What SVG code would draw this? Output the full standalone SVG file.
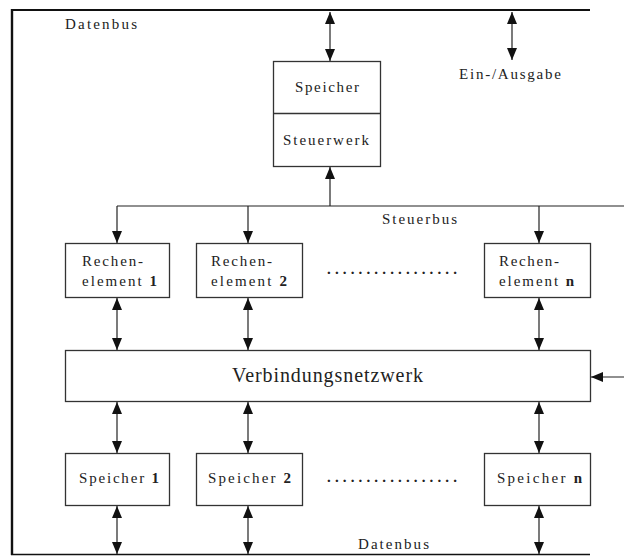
<svg xmlns="http://www.w3.org/2000/svg" width="624" height="557" viewBox="0 0 624 557">
  <style>
    .box { fill: #ffffff; stroke: #333333; stroke-width: 1.3; }
    .bus { fill: none; stroke: #111111; }
    .wire { fill: none; stroke: #222222; stroke-width: 1.2; }
    .both { marker-start: url(#head); marker-end: url(#head); }
    .one { marker-end: url(#head); }
    text { font-family: "Liberation Serif", "Times New Roman", serif; fill: #222222; }
    .small { font-size: 15px; }
    .big { font-size: 20px; }
    .num { font-weight: bold; }
    .dots { font-size: 15px; font-weight: bold; }
  </style>
  <defs>
    <marker id="head" viewBox="0 0 12 10" refX="12" refY="5" markerWidth="12" markerHeight="10" markerUnits="userSpaceOnUse" orient="auto-start-reverse">
      <path d="M0,0 L12,5 L0,10 z" fill="#111111"/>
    </marker>
  </defs>

  <rect width="624" height="557" fill="#ffffff"/>

  <!-- Data bus frame -->
  <g id="datenbus">
    <line class="bus" x1="12" y1="9" x2="12" y2="555" stroke-width="2.4"/>
    <line class="bus" x1="11" y1="10" x2="590" y2="10" stroke-width="2.2"/>
    <line class="bus" x1="11" y1="554.5" x2="590" y2="554.5" stroke-width="1.6"/>
    <text class="small" x="65" y="29" textLength="72" lengthAdjust="spacing">Datenbus</text>
    <text class="small" x="358" y="549" textLength="71" lengthAdjust="spacing">Datenbus</text>
  </g>

  <!-- Control bus -->
  <g id="steuerbus">
    <line class="wire" x1="117" y1="206" x2="624" y2="206"/>
    <text class="small" x="382" y="224" textLength="75" lengthAdjust="spacing">Steuerbus</text>
  </g>

  <!-- Memory / control unit -->
  <g id="speicher-steuerwerk">
    <rect class="box" x="273.5" y="61.5" width="107" height="105"/>
    <line class="box" x1="273.5" y1="113.5" x2="380.5" y2="113.5"/>
    <text class="small" x="295" y="92" textLength="64" lengthAdjust="spacing">Speicher</text>
    <text class="small" x="283" y="145" textLength="86" lengthAdjust="spacing">Steuerwerk</text>
  </g>

  <g id="ein-ausgabe">
    <text class="small" x="459" y="79" textLength="102" lengthAdjust="spacing">Ein-/Ausgabe</text>
  </g>

  <!-- Processing elements -->
  <g id="rechenelement-1">
    <rect class="box" x="65.5" y="243.5" width="104" height="54"/>
    <text class="small" x="82" y="266" textLength="61" lengthAdjust="spacing">Rechen-</text>
    <text class="small" x="82" y="286" textLength="75" lengthAdjust="spacing">element <tspan class="num">1</tspan></text>
  </g>
  <g id="rechenelement-2">
    <rect class="box" x="196.5" y="243.5" width="106" height="54"/>
    <text class="small" x="211" y="266" textLength="61" lengthAdjust="spacing">Rechen-</text>
    <text class="small" x="211" y="286" textLength="76" lengthAdjust="spacing">element <tspan class="num">2</tspan></text>
  </g>
  <g id="rechenelement-dots">
    <text class="dots" x="327" y="274" textLength="130" lengthAdjust="spacing">.................</text>
  </g>
  <g id="rechenelement-n">
    <rect class="box" x="484.5" y="243.5" width="106" height="54"/>
    <text class="small" x="499" y="266" textLength="60" lengthAdjust="spacing">Rechen-</text>
    <text class="small" x="499" y="286" textLength="75" lengthAdjust="spacing">element <tspan class="num">n</tspan></text>
  </g>

  <!-- Interconnection network -->
  <g id="verbindungsnetzwerk">
    <rect class="box" x="65.5" y="350.5" width="525" height="51"/>
    <text class="big" x="232" y="382" textLength="191" lengthAdjust="spacing">Verbindungsnetzwerk</text>
  </g>

  <!-- Memory modules -->
  <g id="speicher-1">
    <rect class="box" x="65.5" y="453.5" width="104" height="52"/>
    <text class="small" x="79" y="483" textLength="80" lengthAdjust="spacing">Speicher <tspan class="num">1</tspan></text>
  </g>
  <g id="speicher-2">
    <rect class="box" x="196.5" y="453.5" width="106" height="52"/>
    <text class="small" x="208" y="483" textLength="83" lengthAdjust="spacing">Speicher <tspan class="num">2</tspan></text>
  </g>
  <g id="speicher-dots">
    <text class="dots" x="327" y="482" textLength="130" lengthAdjust="spacing">.................</text>
  </g>
  <g id="speicher-n">
    <rect class="box" x="484.5" y="453.5" width="106" height="52"/>
    <text class="small" x="497" y="483" textLength="85" lengthAdjust="spacing">Speicher <tspan class="num">n</tspan></text>
  </g>

  <!-- Connectors -->
  <g id="connectors">
    <!-- data bus to memory and I/O -->
    <line class="wire both" x1="330" y1="12" x2="330" y2="61"/>
    <line class="wire both" x1="512" y1="12" x2="512" y2="60"/>
    <!-- control bus up to control unit -->
    <line class="wire one" x1="330" y1="206" x2="330" y2="167"/>
    <!-- control bus down to processing elements -->
    <line class="wire one" x1="117" y1="206" x2="117" y2="243"/>
    <line class="wire one" x1="248" y1="206" x2="248" y2="243"/>
    <line class="wire one" x1="539" y1="206" x2="539" y2="243"/>
    <!-- processing elements to network -->
    <line class="wire both" x1="117" y1="298" x2="117" y2="350"/>
    <line class="wire both" x1="248" y1="298" x2="248" y2="350"/>
    <line class="wire both" x1="539" y1="298" x2="539" y2="350"/>
    <!-- network control input -->
    <line class="wire one" x1="624" y1="377" x2="591" y2="377"/>
    <!-- network to memory modules -->
    <line class="wire both" x1="117" y1="402" x2="117" y2="453"/>
    <line class="wire both" x1="248" y1="402" x2="248" y2="453"/>
    <line class="wire both" x1="539" y1="402" x2="539" y2="453"/>
    <!-- memory modules to data bus -->
    <line class="wire both" x1="117" y1="506" x2="117" y2="554"/>
    <line class="wire both" x1="248" y1="506" x2="248" y2="554"/>
    <line class="wire both" x1="539" y1="506" x2="539" y2="554"/>
  </g>
</svg>
